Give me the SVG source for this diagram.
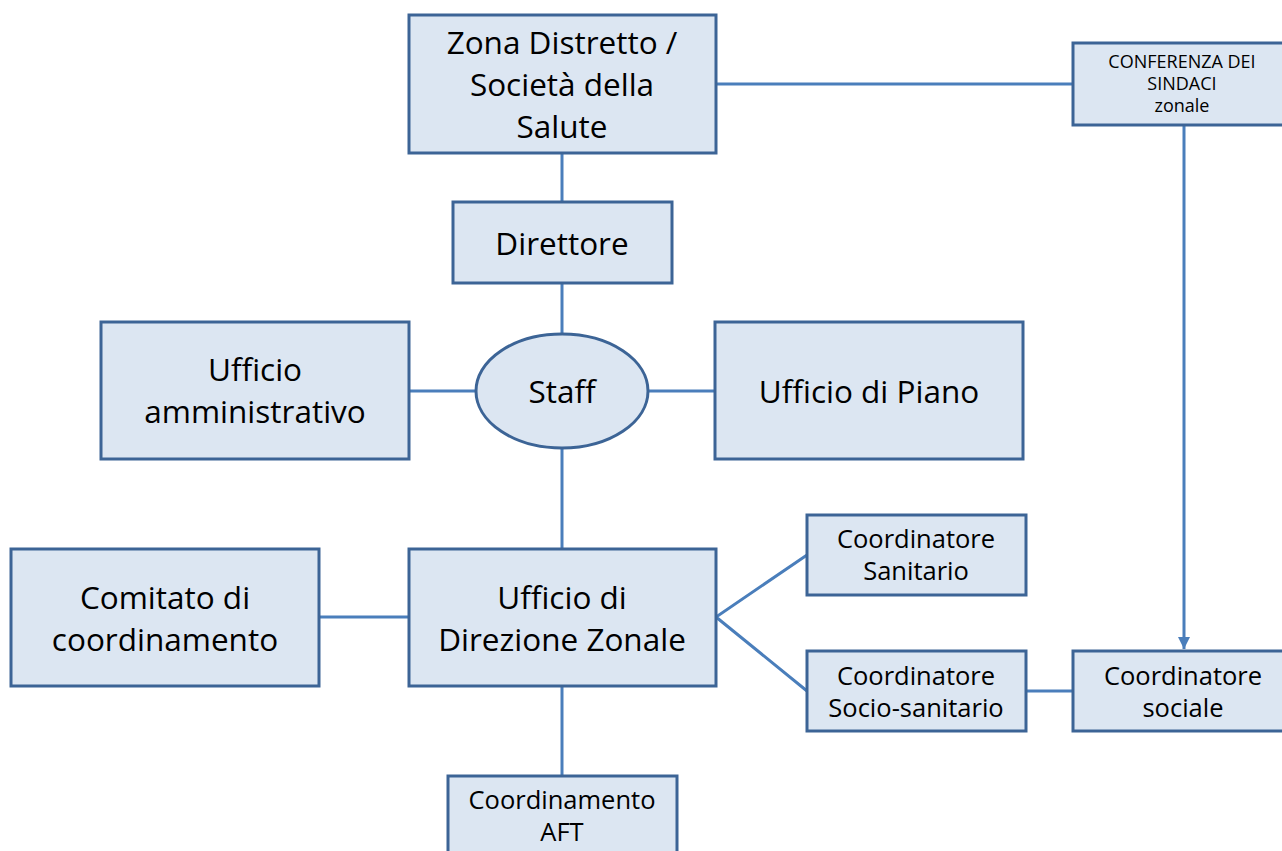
<svg xmlns="http://www.w3.org/2000/svg" width="1282" height="851" viewBox="0 0 1282 851">
<defs>
<style>
.box{fill:#dce6f2;stroke:#3c6496;stroke-width:3}
.c{stroke:#4a7ebb;stroke-width:3;fill:none}
text{font-family:"Open Sans","Liberation Sans",sans-serif;fill:#000;text-anchor:middle}
.L{font-size:31.5px}
.M{font-size:25.5px}
.S{font-size:18px}
</style>
<marker id="arr" viewBox="0 0 10 10" refX="10" refY="5" markerWidth="4" markerHeight="4" orient="auto" markerUnits="strokeWidth">
<path d="M0,0 L10,5 L0,10 z" fill="#4a7ebb"/>
</marker>
</defs>
<rect width="1282" height="851" fill="#fff"/>
<g id="connectors">
<line class="c" x1="562" y1="153" x2="562" y2="202"/>
<line class="c" x1="716" y1="84" x2="1073" y2="84"/>
<line class="c" x1="1184" y1="125" x2="1184" y2="649" marker-end="url(#arr)"/>
<line class="c" x1="562" y1="283" x2="562" y2="334"/>
<line class="c" x1="409" y1="391" x2="476" y2="391"/>
<line class="c" x1="648" y1="391" x2="715" y2="391"/>
<line class="c" x1="562" y1="448" x2="562" y2="549"/>
<line class="c" x1="319" y1="617" x2="409" y2="617"/>
<polyline class="c" points="807,555 716,617 807,691"/>
<line class="c" x1="1026" y1="691" x2="1073" y2="691"/>
<line class="c" x1="562" y1="686" x2="562" y2="776"/>
</g>
<g id="zona">
<rect class="box" x="409" y="15" width="307" height="138"/>
<text class="L" x="562" y="54">Zona Distretto /</text>
<text class="L" x="562" y="96">Società della</text>
<text class="L" x="562" y="138">Salute</text>
</g>
<g id="conferenza">
<rect class="box" x="1073" y="43" width="222" height="82"/>
<text class="S" x="1182" y="68">CONFERENZA DEI</text>
<text class="S" x="1182" y="90">SINDACI</text>
<text class="S" x="1182" y="112">zonale</text>
</g>
<g id="direttore">
<rect class="box" x="453" y="202" width="219" height="81"/>
<text class="L" x="562" y="255">Direttore</text>
</g>
<g id="ufficio-amm">
<rect class="box" x="101" y="322" width="308" height="137"/>
<text class="L" x="255" y="381">Ufficio</text>
<text class="L" x="255" y="423">amministrativo</text>
</g>
<g id="staff">
<ellipse class="box" cx="562" cy="391" rx="86" ry="57"/>
<text class="L" x="562" y="403">Staff</text>
</g>
<g id="ufficio-piano">
<rect class="box" x="715" y="322" width="308" height="137"/>
<text class="L" x="869" y="403">Ufficio di Piano</text>
</g>
<g id="comitato">
<rect class="box" x="11" y="549" width="308" height="137"/>
<text class="L" x="165" y="609">Comitato di</text>
<text class="L" x="165" y="651">coordinamento</text>
</g>
<g id="udz">
<rect class="box" x="409" y="549" width="307" height="137"/>
<text class="L" x="562" y="609">Ufficio di</text>
<text class="L" x="562" y="651">Direzione Zonale</text>
</g>
<g id="coord-sanitario">
<rect class="box" x="807" y="515" width="219" height="80"/>
<text class="M" x="916" y="548">Coordinatore</text>
<text class="M" x="916" y="580">Sanitario</text>
</g>
<g id="coord-socio">
<rect class="box" x="807" y="651" width="219" height="80"/>
<text class="M" x="916" y="685">Coordinatore</text>
<text class="M" x="916" y="717">Socio-sanitario</text>
</g>
<g id="coord-sociale">
<rect class="box" x="1073" y="651" width="222" height="80"/>
<text class="M" x="1183" y="685">Coordinatore</text>
<text class="M" x="1183" y="717">sociale</text>
</g>
<g id="aft">
<rect class="box" x="448" y="776" width="229" height="90"/>
<text class="M" x="562" y="809">Coordinamento</text>
<text class="M" x="562" y="841">AFT</text>
</g>
</svg>
